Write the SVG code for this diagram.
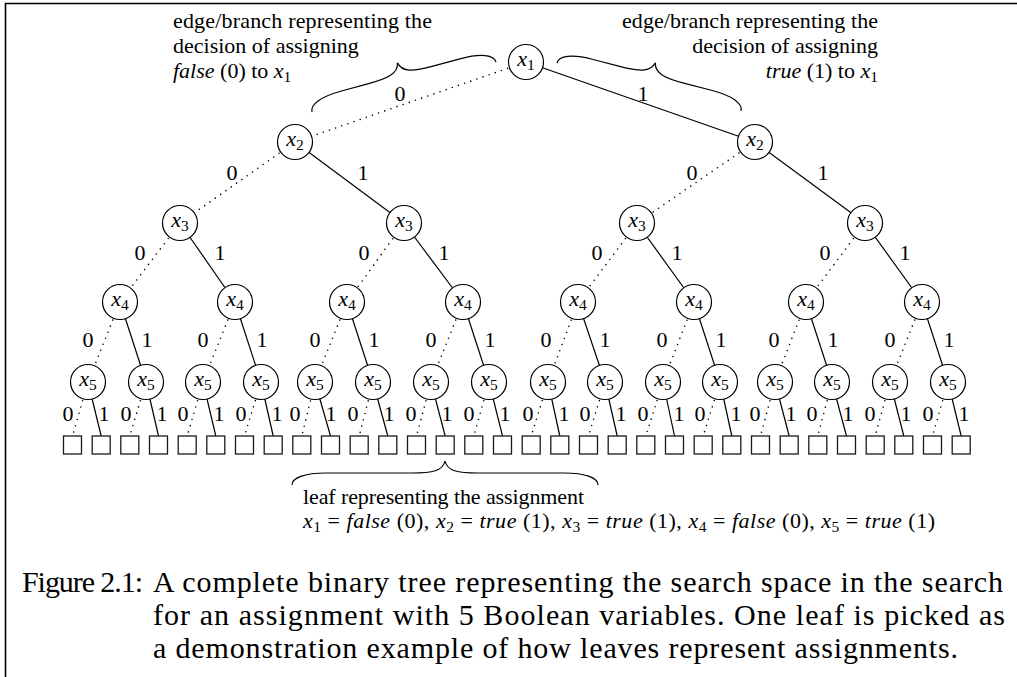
<svg xmlns="http://www.w3.org/2000/svg" width="1017" height="677" viewBox="0 0 1017 677">
  <style>
    .t { font-family: "Liberation Serif", "Times New Roman", serif; font-size: 22px; fill: #000; }
    .cap { font-family: "Liberation Serif", "Times New Roman", serif; font-size: 30px; fill: #000; }
    .i { font-style: italic; }
    .s { font-size: 15.5px; }
    .node circle { fill: #fff; stroke: #000; stroke-width: 1.2; }
    .node text { text-anchor: middle; }
    .leaf rect { fill: #fff; stroke: #1a1a1a; stroke-width: 1.3; }
    .e1 { stroke: #000; stroke-width: 1.2; fill: none; }
    .e0 { stroke: #000; stroke-width: 1.6; stroke-dasharray: 0 6.5; stroke-linecap: round; fill: none; }
    .lbl text { text-anchor: middle; }
    .brace { fill: none; stroke: #000; stroke-width: 1.2; }
    .frame { stroke: #000; stroke-width: 1.6; fill: none; }
  </style>

  <!-- page frame -->
  <path class="frame" d="M5.5,677 V3.5 H1017"/>

  <!-- connectors: dotted = 0, solid = 1 -->
  <g id="connectors">
    <!-- level 1 -->
    <line class="e0" x1="526" y1="62" x2="295" y2="142"/>
    <line class="e1" x1="526" y1="62" x2="755" y2="142"/>
    <!-- level 2 -->
    <line class="e0" x1="295" y1="142" x2="180" y2="223"/>
    <line class="e1" x1="295" y1="142" x2="404" y2="223"/>
    <line class="e0" x1="755" y1="142" x2="637" y2="223"/>
    <line class="e1" x1="755" y1="142" x2="865" y2="223"/>
    <!-- level 3 -->
    <line class="e0" x1="180" y1="223" x2="120" y2="302"/>
    <line class="e1" x1="180" y1="223" x2="235" y2="302"/>
    <line class="e0" x1="404" y1="223" x2="347" y2="302"/>
    <line class="e1" x1="404" y1="223" x2="463" y2="302"/>
    <line class="e0" x1="637" y1="223" x2="578" y2="302"/>
    <line class="e1" x1="637" y1="223" x2="694" y2="302"/>
    <line class="e0" x1="865" y1="223" x2="806" y2="302"/>
    <line class="e1" x1="865" y1="223" x2="922" y2="302"/>
    <!-- level 4 -->
    <line class="e0" x1="120" y1="302" x2="88" y2="382"/>
    <line class="e1" x1="120" y1="302" x2="146" y2="382"/>
    <line class="e0" x1="235" y1="302" x2="203" y2="382"/>
    <line class="e1" x1="235" y1="302" x2="261" y2="382"/>
    <line class="e0" x1="347" y1="302" x2="315" y2="382"/>
    <line class="e1" x1="347" y1="302" x2="373" y2="382"/>
    <line class="e0" x1="463" y1="302" x2="431" y2="382"/>
    <line class="e1" x1="463" y1="302" x2="489" y2="382"/>
    <line class="e0" x1="578" y1="302" x2="548" y2="382"/>
    <line class="e1" x1="578" y1="302" x2="605" y2="382"/>
    <line class="e0" x1="694" y1="302" x2="663" y2="382"/>
    <line class="e1" x1="694" y1="302" x2="720" y2="382"/>
    <line class="e0" x1="806" y1="302" x2="775" y2="382"/>
    <line class="e1" x1="806" y1="302" x2="832" y2="382"/>
    <line class="e0" x1="922" y1="302" x2="890" y2="382"/>
    <line class="e1" x1="922" y1="302" x2="948" y2="382"/>
    <!-- level 5: x5 to leaves -->
    <line class="e0" x1="88" y1="382" x2="72.5" y2="436"/>
    <line class="e1" x1="88" y1="382" x2="101.2" y2="436"/>
    <line class="e0" x1="146" y1="382" x2="129.8" y2="436"/>
    <line class="e1" x1="146" y1="382" x2="158.5" y2="436"/>
    <line class="e0" x1="203" y1="382" x2="187.2" y2="436"/>
    <line class="e1" x1="203" y1="382" x2="215.8" y2="436"/>
    <line class="e0" x1="261" y1="382" x2="244.5" y2="436"/>
    <line class="e1" x1="261" y1="382" x2="273.2" y2="436"/>
    <line class="e0" x1="315" y1="382" x2="301.8" y2="436"/>
    <line class="e1" x1="315" y1="382" x2="330.5" y2="436"/>
    <line class="e0" x1="373" y1="382" x2="359.2" y2="436"/>
    <line class="e1" x1="373" y1="382" x2="387.8" y2="436"/>
    <line class="e0" x1="431" y1="382" x2="416.5" y2="436"/>
    <line class="e1" x1="431" y1="382" x2="445.2" y2="436"/>
    <line class="e0" x1="489" y1="382" x2="473.8" y2="436"/>
    <line class="e1" x1="489" y1="382" x2="502.5" y2="436"/>
    <line class="e0" x1="548" y1="382" x2="531.2" y2="436"/>
    <line class="e1" x1="548" y1="382" x2="559.8" y2="436"/>
    <line class="e0" x1="605" y1="382" x2="588.5" y2="436"/>
    <line class="e1" x1="605" y1="382" x2="617.2" y2="436"/>
    <line class="e0" x1="663" y1="382" x2="645.8" y2="436"/>
    <line class="e1" x1="663" y1="382" x2="674.5" y2="436"/>
    <line class="e0" x1="720" y1="382" x2="703.2" y2="436"/>
    <line class="e1" x1="720" y1="382" x2="731.8" y2="436"/>
    <line class="e0" x1="775" y1="382" x2="760.5" y2="436"/>
    <line class="e1" x1="775" y1="382" x2="789.2" y2="436"/>
    <line class="e0" x1="832" y1="382" x2="817.8" y2="436"/>
    <line class="e1" x1="832" y1="382" x2="846.5" y2="436"/>
    <line class="e0" x1="890" y1="382" x2="875.2" y2="436"/>
    <line class="e1" x1="890" y1="382" x2="903.8" y2="436"/>
    <line class="e0" x1="948" y1="382" x2="932.5" y2="436"/>
    <line class="e1" x1="948" y1="382" x2="961.2" y2="436"/>
  </g>

  <!-- edge labels -->
  <g class="lbl t">
    <text x="400" y="101">0</text><text x="643" y="101">1</text>
    <text x="232" y="180">0</text><text x="363" y="180">1</text>
    <text x="692" y="180">0</text><text x="823" y="180">1</text>
    <text x="140" y="260">0</text><text x="220" y="260">1</text>
    <text x="364" y="260">0</text><text x="444" y="260">1</text>
    <text x="597" y="260">0</text><text x="677" y="260">1</text>
    <text x="825" y="260">0</text><text x="905" y="260">1</text>
    <text x="88" y="347">0</text><text x="147" y="347">1</text>
    <text x="203" y="347">0</text><text x="262" y="347">1</text>
    <text x="315" y="347">0</text><text x="374" y="347">1</text>
    <text x="431" y="347">0</text><text x="490" y="347">1</text>
    <text x="546" y="347">0</text><text x="605" y="347">1</text>
    <text x="662" y="347">0</text><text x="721" y="347">1</text>
    <text x="774" y="347">0</text><text x="833" y="347">1</text>
    <text x="890" y="347">0</text><text x="949" y="347">1</text>
    <text x="68" y="421">0</text><text x="104" y="421">1</text>
    <text x="126" y="421">0</text><text x="162" y="421">1</text>
    <text x="183" y="421">0</text><text x="219" y="421">1</text>
    <text x="241" y="421">0</text><text x="277" y="421">1</text>
    <text x="295" y="421">0</text><text x="331" y="421">1</text>
    <text x="353" y="421">0</text><text x="389" y="421">1</text>
    <text x="411" y="421">0</text><text x="447" y="421">1</text>
    <text x="469" y="421">0</text><text x="505" y="421">1</text>
    <text x="528" y="421">0</text><text x="564" y="421">1</text>
    <text x="585" y="421">0</text><text x="621" y="421">1</text>
    <text x="643" y="421">0</text><text x="679" y="421">1</text>
    <text x="700" y="421">0</text><text x="736" y="421">1</text>
    <text x="755" y="421">0</text><text x="791" y="421">1</text>
    <text x="812" y="421">0</text><text x="848" y="421">1</text>
    <text x="870" y="421">0</text><text x="906" y="421">1</text>
    <text x="928" y="421">0</text><text x="964" y="421">1</text>
  </g>

  <!-- decision nodes -->
  <g id="n1" class="node"><circle cx="526" cy="62" r="17.5"/><text class="t" x="526" y="66"><tspan class="i">x</tspan><tspan class="s" dy="4">1</tspan></text></g>
  <g id="n2a" class="node"><circle cx="295" cy="142" r="17.5"/><text class="t" x="295" y="146"><tspan class="i">x</tspan><tspan class="s" dy="4">2</tspan></text></g>
  <g id="n2b" class="node"><circle cx="755" cy="142" r="17.5"/><text class="t" x="755" y="146"><tspan class="i">x</tspan><tspan class="s" dy="4">2</tspan></text></g>
  <g id="n3a" class="node"><circle cx="180" cy="223" r="17.5"/><text class="t" x="180" y="227"><tspan class="i">x</tspan><tspan class="s" dy="4">3</tspan></text></g>
  <g id="n3b" class="node"><circle cx="404" cy="223" r="17.5"/><text class="t" x="404" y="227"><tspan class="i">x</tspan><tspan class="s" dy="4">3</tspan></text></g>
  <g id="n3c" class="node"><circle cx="637" cy="223" r="17.5"/><text class="t" x="637" y="227"><tspan class="i">x</tspan><tspan class="s" dy="4">3</tspan></text></g>
  <g id="n3d" class="node"><circle cx="865" cy="223" r="17.5"/><text class="t" x="865" y="227"><tspan class="i">x</tspan><tspan class="s" dy="4">3</tspan></text></g>
  <g id="n4a" class="node"><circle cx="120" cy="302" r="17.5"/><text class="t" x="120" y="306"><tspan class="i">x</tspan><tspan class="s" dy="4">4</tspan></text></g>
  <g id="n4b" class="node"><circle cx="235" cy="302" r="17.5"/><text class="t" x="235" y="306"><tspan class="i">x</tspan><tspan class="s" dy="4">4</tspan></text></g>
  <g id="n4c" class="node"><circle cx="347" cy="302" r="17.5"/><text class="t" x="347" y="306"><tspan class="i">x</tspan><tspan class="s" dy="4">4</tspan></text></g>
  <g id="n4d" class="node"><circle cx="463" cy="302" r="17.5"/><text class="t" x="463" y="306"><tspan class="i">x</tspan><tspan class="s" dy="4">4</tspan></text></g>
  <g id="n4e" class="node"><circle cx="578" cy="302" r="17.5"/><text class="t" x="578" y="306"><tspan class="i">x</tspan><tspan class="s" dy="4">4</tspan></text></g>
  <g id="n4f" class="node"><circle cx="694" cy="302" r="17.5"/><text class="t" x="694" y="306"><tspan class="i">x</tspan><tspan class="s" dy="4">4</tspan></text></g>
  <g id="n4g" class="node"><circle cx="806" cy="302" r="17.5"/><text class="t" x="806" y="306"><tspan class="i">x</tspan><tspan class="s" dy="4">4</tspan></text></g>
  <g id="n4h" class="node"><circle cx="922" cy="302" r="17.5"/><text class="t" x="922" y="306"><tspan class="i">x</tspan><tspan class="s" dy="4">4</tspan></text></g>
  <g id="n5a" class="node"><circle cx="88" cy="382" r="17.5"/><text class="t" x="88" y="386"><tspan class="i">x</tspan><tspan class="s" dy="4">5</tspan></text></g>
  <g id="n5b" class="node"><circle cx="146" cy="382" r="17.5"/><text class="t" x="146" y="386"><tspan class="i">x</tspan><tspan class="s" dy="4">5</tspan></text></g>
  <g id="n5c" class="node"><circle cx="203" cy="382" r="17.5"/><text class="t" x="203" y="386"><tspan class="i">x</tspan><tspan class="s" dy="4">5</tspan></text></g>
  <g id="n5d" class="node"><circle cx="261" cy="382" r="17.5"/><text class="t" x="261" y="386"><tspan class="i">x</tspan><tspan class="s" dy="4">5</tspan></text></g>
  <g id="n5e" class="node"><circle cx="315" cy="382" r="17.5"/><text class="t" x="315" y="386"><tspan class="i">x</tspan><tspan class="s" dy="4">5</tspan></text></g>
  <g id="n5f" class="node"><circle cx="373" cy="382" r="17.5"/><text class="t" x="373" y="386"><tspan class="i">x</tspan><tspan class="s" dy="4">5</tspan></text></g>
  <g id="n5g" class="node"><circle cx="431" cy="382" r="17.5"/><text class="t" x="431" y="386"><tspan class="i">x</tspan><tspan class="s" dy="4">5</tspan></text></g>
  <g id="n5h" class="node"><circle cx="489" cy="382" r="17.5"/><text class="t" x="489" y="386"><tspan class="i">x</tspan><tspan class="s" dy="4">5</tspan></text></g>
  <g id="n5i" class="node"><circle cx="548" cy="382" r="17.5"/><text class="t" x="548" y="386"><tspan class="i">x</tspan><tspan class="s" dy="4">5</tspan></text></g>
  <g id="n5j" class="node"><circle cx="605" cy="382" r="17.5"/><text class="t" x="605" y="386"><tspan class="i">x</tspan><tspan class="s" dy="4">5</tspan></text></g>
  <g id="n5k" class="node"><circle cx="663" cy="382" r="17.5"/><text class="t" x="663" y="386"><tspan class="i">x</tspan><tspan class="s" dy="4">5</tspan></text></g>
  <g id="n5l" class="node"><circle cx="720" cy="382" r="17.5"/><text class="t" x="720" y="386"><tspan class="i">x</tspan><tspan class="s" dy="4">5</tspan></text></g>
  <g id="n5m" class="node"><circle cx="775" cy="382" r="17.5"/><text class="t" x="775" y="386"><tspan class="i">x</tspan><tspan class="s" dy="4">5</tspan></text></g>
  <g id="n5n" class="node"><circle cx="832" cy="382" r="17.5"/><text class="t" x="832" y="386"><tspan class="i">x</tspan><tspan class="s" dy="4">5</tspan></text></g>
  <g id="n5o" class="node"><circle cx="890" cy="382" r="17.5"/><text class="t" x="890" y="386"><tspan class="i">x</tspan><tspan class="s" dy="4">5</tspan></text></g>
  <g id="n5p" class="node"><circle cx="948" cy="382" r="17.5"/><text class="t" x="948" y="386"><tspan class="i">x</tspan><tspan class="s" dy="4">5</tspan></text></g>

  <!-- leaves: one square per complete assignment -->
  <g id="leaf00" class="leaf"><rect x="63.5" y="436" width="18" height="18"/></g>
  <g id="leaf01" class="leaf"><rect x="92.2" y="436" width="18" height="18"/></g>
  <g id="leaf02" class="leaf"><rect x="120.8" y="436" width="18" height="18"/></g>
  <g id="leaf03" class="leaf"><rect x="149.5" y="436" width="18" height="18"/></g>
  <g id="leaf04" class="leaf"><rect x="178.2" y="436" width="18" height="18"/></g>
  <g id="leaf05" class="leaf"><rect x="206.8" y="436" width="18" height="18"/></g>
  <g id="leaf06" class="leaf"><rect x="235.5" y="436" width="18" height="18"/></g>
  <g id="leaf07" class="leaf"><rect x="264.2" y="436" width="18" height="18"/></g>
  <g id="leaf08" class="leaf"><rect x="292.8" y="436" width="18" height="18"/></g>
  <g id="leaf09" class="leaf"><rect x="321.5" y="436" width="18" height="18"/></g>
  <g id="leaf10" class="leaf"><rect x="350.2" y="436" width="18" height="18"/></g>
  <g id="leaf11" class="leaf"><rect x="378.8" y="436" width="18" height="18"/></g>
  <g id="leaf12" class="leaf"><rect x="407.5" y="436" width="18" height="18"/></g>
  <g id="leaf13" class="leaf"><rect x="436.2" y="436" width="18" height="18"/></g>
  <g id="leaf14" class="leaf"><rect x="464.8" y="436" width="18" height="18"/></g>
  <g id="leaf15" class="leaf"><rect x="493.5" y="436" width="18" height="18"/></g>
  <g id="leaf16" class="leaf"><rect x="522.2" y="436" width="18" height="18"/></g>
  <g id="leaf17" class="leaf"><rect x="550.8" y="436" width="18" height="18"/></g>
  <g id="leaf18" class="leaf"><rect x="579.5" y="436" width="18" height="18"/></g>
  <g id="leaf19" class="leaf"><rect x="608.2" y="436" width="18" height="18"/></g>
  <g id="leaf20" class="leaf"><rect x="636.8" y="436" width="18" height="18"/></g>
  <g id="leaf21" class="leaf"><rect x="665.5" y="436" width="18" height="18"/></g>
  <g id="leaf22" class="leaf"><rect x="694.2" y="436" width="18" height="18"/></g>
  <g id="leaf23" class="leaf"><rect x="722.8" y="436" width="18" height="18"/></g>
  <g id="leaf24" class="leaf"><rect x="751.5" y="436" width="18" height="18"/></g>
  <g id="leaf25" class="leaf"><rect x="780.2" y="436" width="18" height="18"/></g>
  <g id="leaf26" class="leaf"><rect x="808.8" y="436" width="18" height="18"/></g>
  <g id="leaf27" class="leaf"><rect x="837.5" y="436" width="18" height="18"/></g>
  <g id="leaf28" class="leaf"><rect x="866.2" y="436" width="18" height="18"/></g>
  <g id="leaf29" class="leaf"><rect x="894.8" y="436" width="18" height="18"/></g>
  <g id="leaf30" class="leaf"><rect x="923.5" y="436" width="18" height="18"/></g>
  <g id="leaf31" class="leaf"><rect x="952.2" y="436" width="18" height="18"/></g>

  <!-- annotation: false branch of x1 -->
  <g id="note-false">
    <path class="brace" transform="translate(312,112) rotate(-15.2)" d="M0,0 C0,-7.5 12,-12.5 34,-12.5 L62,-12.5 C82,-12.5 93.3,-14.5 95.35,-25 C97.4,-14.5 108.7,-12.5 128.7,-12.5 L156.7,-12.5 C178.7,-12.5 190.7,-7.5 190.7,0"/>
    <text class="t" x="173" y="28" textLength="259">edge/branch representing the</text>
    <text class="t" x="173" y="53">decision of assigning</text>
    <text class="t" x="173" y="78"><tspan class="i">false</tspan> (0) to <tspan class="i">x</tspan><tspan class="s" dy="4">1</tspan></text>
  </g>

  <!-- annotation: true branch of x1 -->
  <g id="note-true">
    <path class="brace" transform="translate(557,63) rotate(14.6)" d="M0,0 C0,-7.5 12,-12.5 34,-12.5 L61.5,-12.5 C81.5,-12.5 93.1,-14.5 95.1,-25 C97.1,-14.5 108.7,-12.5 128.7,-12.5 L156.2,-12.5 C178.2,-12.5 190.2,-7.5 190.2,0"/>
    <text class="t" x="878" y="28" text-anchor="end" textLength="256">edge/branch representing the</text>
    <text class="t" x="878" y="53" text-anchor="end">decision of assigning</text>
    <text class="t" x="878" y="78" text-anchor="end"><tspan class="i">true</tspan> (1) to <tspan class="i">x</tspan><tspan class="s" dy="4">1</tspan></text>
  </g>

  <!-- annotation: the highlighted leaf -->
  <g id="note-leaf">
    <path class="brace" transform="translate(292,485)" d="M0,0 C0,-7 12,-12 34,-12 L120,-12 C140,-12 151,-14 153,-24 C155,-14 166,-12 186,-12 L272,-12 C294,-12 306,-7 306,0"/>
    <text class="t" x="303" y="504" textLength="281">leaf representing the assignment</text>
    <text class="t" x="303" y="528" textLength="632"><tspan class="i">x</tspan><tspan class="s" dy="4">1</tspan><tspan dy="-4"> = </tspan><tspan class="i">false</tspan> (0), <tspan class="i">x</tspan><tspan class="s" dy="4">2</tspan><tspan dy="-4"> = </tspan><tspan class="i">true</tspan> (1), <tspan class="i">x</tspan><tspan class="s" dy="4">3</tspan><tspan dy="-4"> = </tspan><tspan class="i">true</tspan> (1), <tspan class="i">x</tspan><tspan class="s" dy="4">4</tspan><tspan dy="-4"> = </tspan><tspan class="i">false</tspan> (0), <tspan class="i">x</tspan><tspan class="s" dy="4">5</tspan><tspan dy="-4"> = </tspan><tspan class="i">true</tspan> (1)</text>
  </g>

  <!-- caption -->
  <g id="caption">
    <text class="cap" x="22" y="592" textLength="121">Figure 2.1:</text>
    <text class="cap" x="153" y="592" textLength="850">A complete binary tree representing the search space in the search</text>
    <text class="cap" x="153" y="625" textLength="852">for an assignment with 5 Boolean variables. One leaf is picked as</text>
    <text class="cap" x="153" y="658" textLength="805">a demonstration example of how leaves represent assignments.</text>
  </g>
</svg>
